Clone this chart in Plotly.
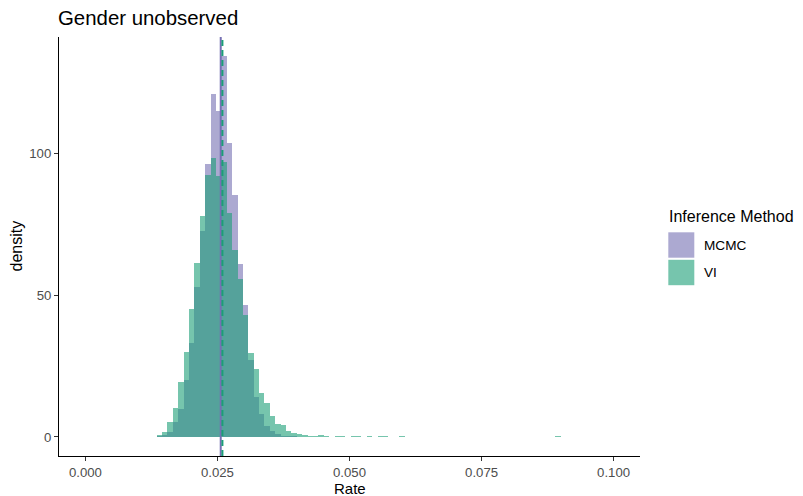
import numpy as np
import plotly.graph_objects as go

# ---- data ----
bin_start = 0.0135
bin_width = 0.00102

mcmc_density = [0.3, 0.8, 1.9, 5.2, 10.0, 20.0, 33.0, 53.0, 72.5, 96.0,
                120.8, 115.0, 134.2, 103.4, 85.3, 60.8, 46.6, 27.0, 14.0, 8.0,
                4.0, 2.0, 1.0, 0.5, 0.3, 0.2]

vi_density = [0.7, 1.9, 5.2, 10.1, 19.5, 30.1, 45.0, 61.2, 78.0, 92.2,
              98.2, 92.0, 97.0, 79.0, 66.0, 55.7, 43.0, 29.6, 23.8, 15.4,
              11.9, 7.5, 4.6, 4.2, 2.1, 1.5, 1.2, 0.6, 0.35, 0.35,
              0.8, 0.35, 0.15, 0.35, 0.35, 0.0, 0.35, 0.35, 0.0, 0.25,
              0.0, 0.25, 0.25, 0.0, 0.0, 0.25, 0.0, 0.0, 0.0, 0.0,
              0.0, 0.0, 0.0, 0.0, 0.0, 0.0, 0.0, 0.0, 0.0, 0.0,
              0.0, 0.0, 0.0, 0.0, 0.0, 0.0, 0.0, 0.0, 0.0, 0.0,
              0.0, 0.0, 0.0, 0.0, 0.2]

methods = ["MCMC", "VI"]
method_means = [0.02562, 0.02594]

x_tick_vals = [0.0, 0.025, 0.05, 0.075, 0.1]
x_tick_text = ["0.000", "0.025", "0.050", "0.075", "0.100"]
y_tick_vals = [0, 50, 100]

# ---- styling ----
fill_colors = {"MCMC": "rgba(117,112,179,0.6)", "VI": "rgba(27,158,119,0.6)"}
line_colors = {"MCMC": "#7570B3", "VI": "#1B9E77"}
line_dash = {"MCMC": "solid", "VI": "6px,4px"}
FONT = "Liberation Sans, Arial, sans-serif"

# page offset (browser body margin)
OFF = 8
FIG_W, FIG_H = 803 - OFF, 496 - OFF
L = 59; T = 37; W = 581; H = 419          # plot area in page pixels


def px(xp):
    return (xp - L) / W


def py(yp):
    return (T + H - yp) / H


def centers(n):
    return bin_start + (np.arange(n) + 0.5) * bin_width


fig = go.Figure()
for name, dens in zip(methods, [mcmc_density, vi_density]):
    fig.add_trace(go.Bar(
        x=centers(len(dens)), y=dens, width=bin_width,
        marker=dict(color=fill_colors[name], line=dict(width=0)),
        name=name, showlegend=False,
    ))

for name, m in zip(methods, method_means):
    fig.add_shape(type="line", xref="x", yref="paper", x0=m, x1=m, y0=0, y1=1,
                  line=dict(color=line_colors[name], width=2, dash=line_dash[name]))

# manual legend (ggplot style)
key_rows = [(232.3, 257.7), (259.8, 285.2)]
for name, (y0, y1) in zip(methods, key_rows):
    fig.add_shape(type="rect", xref="paper", yref="paper",
                  x0=px(668.3), x1=px(694.3), y0=py(y1), y1=py(y0),
                  fillcolor=fill_colors[name], line=dict(width=0), layer="above")
    fig.add_annotation(xref="paper", yref="paper", x=px(701.5), y=py((y0 + y1) / 2),
                       text=name, showarrow=False, xanchor="left", yanchor="middle",
                       font=dict(family=FONT, size=13.6, color="black"))

fig.add_annotation(xref="paper", yref="paper", x=px(666.5), y=py(216.5),
                   text="Inference Method", showarrow=False, xanchor="left",
                   yanchor="middle", font=dict(family=FONT, size=16, color="black"))

# axis titles
fig.add_annotation(xref="paper", yref="paper", x=0.5, y=py(488.3),
                   text="Rate", showarrow=False, xanchor="center", yanchor="middle",
                   borderpad=0, font=dict(family=FONT, size=15, color="black"))
fig.add_annotation(xref="paper", yref="paper", x=px(16), y=0.5,
                   text="density", showarrow=False, textangle=-90,
                   xanchor="center", yanchor="middle",
                   font=dict(family=FONT, size=16, color="black"))

axis_common = dict(showgrid=False, zeroline=False, showline=True, linecolor="black",
                   linewidth=1.1, ticks="outside", ticklen=4, tickwidth=1.1,
                   tickcolor="#333333",
                   tickfont=dict(family=FONT, size=13.2, color="#4D4D4D"))

fig.update_layout(
    width=FIG_W, height=FIG_H, autosize=False,
    margin=dict(l=L - OFF, r=FIG_W - (L - OFF) - W, t=T - OFF,
                b=FIG_H - (T - OFF) - H, pad=0),
    plot_bgcolor="white", paper_bgcolor="white",
    barmode="overlay", bargap=0, showlegend=False,
    title=dict(text="Gender unobserved", xref="container", yref="container",
               x=(58 - OFF) / FIG_W, xanchor="left",
               y=1 - (17.5 - OFF) / FIG_H, yanchor="middle",
               font=dict(family=FONT, size=20.4, color="black")),
    xaxis=dict(range=[-0.005, 0.105], tickvals=x_tick_vals, ticktext=x_tick_text,
               **axis_common),
    yaxis=dict(range=[-6.71, 140.9], tickvals=y_tick_vals, **axis_common),
)

fig.write_html("out.html")
